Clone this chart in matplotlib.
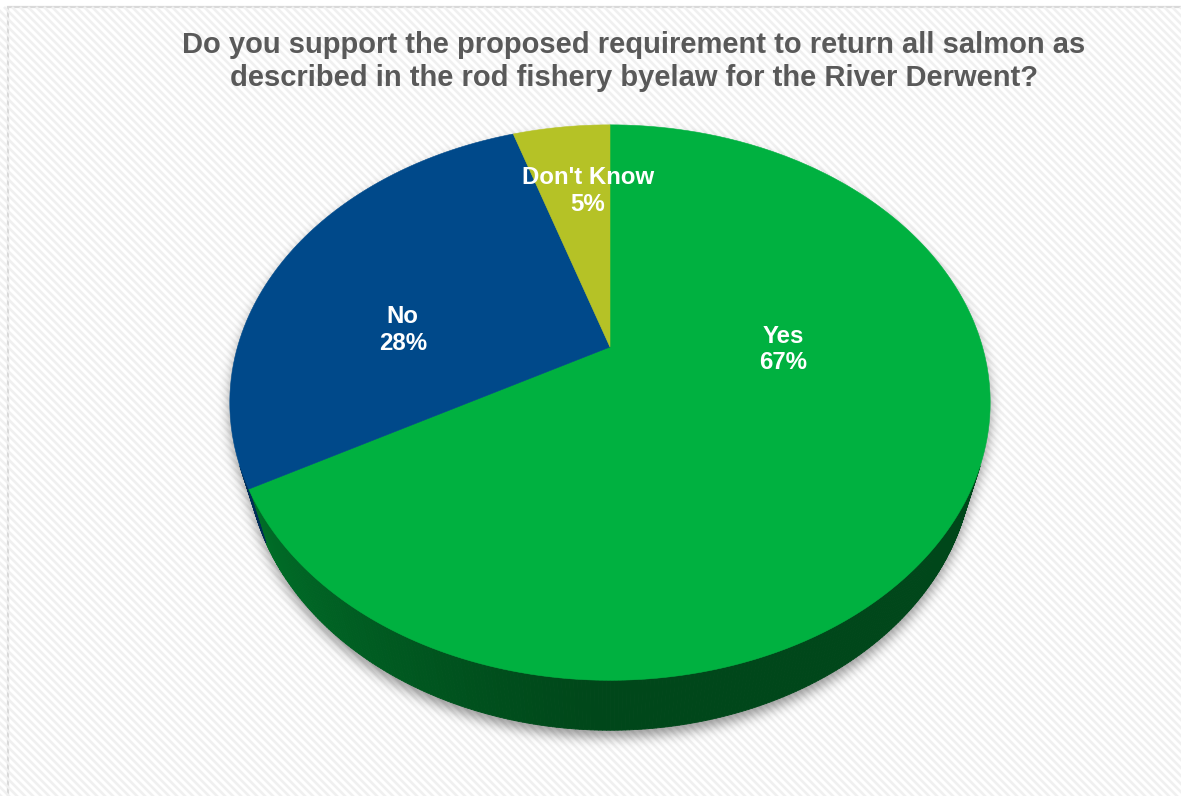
import numpy as np
import matplotlib
matplotlib.use("Agg")
import matplotlib.pyplot as plt
from matplotlib.patches import Polygon, Rectangle
from matplotlib.collections import LineCollection, PolyCollection
from matplotlib.path import Path
from matplotlib.colors import to_rgb

# ---- data ----
categories = ["Yes", "No", "Don't Know"]
shares = [67, 28, 5]
slice_colors = ["#00B140", "#00498A", "#B5C226"]
title = ("Do you support the proposed requirement to return all salmon as\n"
         "described in the rod fishery byelaw for the River Derwent?")

# ---- canvas ----
W, H = 1181, 796
fig = plt.figure(figsize=(W / 100, H / 100), dpi=100)
ax = fig.add_axes([0, 0, 1, 1])
ax.set_xlim(0, W)
ax.set_ylim(H, 0)
ax.axis("off")

# chart area with light diagonal stripes
frame = Rectangle((8, 7), W, H, facecolor="white", edgecolor="#d9d9d9",
                  linewidth=1.6, zorder=0)
ax.add_patch(frame)
period = 8.0
segs = []
for x0 in np.arange(-H, W + period, period):
    segs.append([(x0, 7), (x0 + H, 7 + H)])
stripes = LineCollection(segs, colors="#f0f0f0", linewidths=1.9, zorder=0.5)
stripes.set_clip_path(frame)
ax.add_collection(stripes)

# ---- 3-D pie projection ----
CX, CY = 610.0, 347.0        # projected pie centre
ALPHA = np.radians(45.7)     # tilt of the pie plane
DIST = 3.49                  # camera distance (in pie radii)
FOCAL = 1300.0               # focal length in pixels
DEPTH = 0.22                 # pie thickness (in pie radii)
ca, sa = np.cos(ALPHA), np.sin(ALPHA)


def project(theta_deg, r=1.0, z=0.0):
    t = np.radians(np.asarray(theta_deg, dtype=float))
    x = r * np.sin(t)
    y = r * np.cos(t)
    u = y * sa + z * ca
    w = y * ca - z * sa
    den = DIST + w
    return CX + FOCAL * x / den, CY - FOCAL * u / den


total = float(sum(shares))
bounds = np.concatenate([[0.0], np.cumsum(shares) / total * 360.0])

# side wall is visible where cos(theta) < -1/(DIST*cos(alpha))
cos_lim = -1.0 / (DIST * ca)
th_right = np.degrees(np.arccos(cos_lim))
th_left = 360.0 - th_right

# soft drop shadow under the pie silhouette
back = np.linspace(th_left, th_right + 360.0, 400)
front = np.linspace(th_right, th_left, 300)[::-1]
sx1, sy1 = project(back, 1.0, 0.0)
sx2, sy2 = project(front[::-1], 1.0, -DEPTH)
sil = np.column_stack([np.concatenate([sx1, sx2]), np.concatenate([sy1, sy2])])
sil_path = Path(sil + np.array([0.0, 7.0]))
gx, gy = np.meshgrid(np.arange(W) + 0.5, np.arange(H) + 0.5)
mask = sil_path.contains_points(np.column_stack([gx.ravel(), gy.ravel()]))
mask = mask.reshape(H, W).astype(float)
sig = 6.0
kx = np.arange(-20, 21)
kern = np.exp(-kx ** 2 / (2 * sig ** 2))
kern /= kern.sum()
blur = np.apply_along_axis(lambda v: np.convolve(v, kern, mode="same"), 1, mask)
blur = np.apply_along_axis(lambda v: np.convolve(v, kern, mode="same"), 0, blur)
shadow = np.zeros((H, W, 4))
shadow[..., 3] = 0.40 * blur
ax.imshow(shadow, extent=[0, W, H, 0], zorder=1, interpolation="bilinear")


def shade(theta):
    s = np.sin(np.radians(theta))
    return 0.40 + 0.26 * np.clip(-s, 0, 1) ** 1.3

# side walls
quads, qcols = [], []
for i, col in enumerate(slice_colors):
    a0, a1 = bounds[i], bounds[i + 1]
    lo, hi = max(a0, th_right), min(a1, th_left)
    if hi <= lo:
        continue
    ts = np.linspace(lo, hi, max(3, int((hi - lo) * 2) + 1))
    base = np.array(to_rgb(col))
    for t0, t1 in zip(ts[:-1], ts[1:]):
        xa, ya = project([t0, t1], 1.0, 0.0)
        xb, yb = project([t1, t0], 1.0, -DEPTH)
        quads.append(list(zip(np.concatenate([xa, xb]), np.concatenate([ya, yb]))))
        qcols.append(np.clip(base * shade(0.5 * (t0 + t1)), 0, 1))
ax.add_collection(PolyCollection(quads, facecolors=qcols, edgecolors=qcols,
                                 linewidths=0.6, zorder=2))

# top faces
for i, col in enumerate(slice_colors):
    a0, a1 = bounds[i], bounds[i + 1]
    ts = np.linspace(a0, a1, max(4, int((a1 - a0) * 2) + 1))
    px, py = project(ts, 1.0, 0.0)
    pts = np.column_stack([np.concatenate([[CX], px]), np.concatenate([[CY], py])])
    ax.add_patch(Polygon(pts, closed=True, facecolor=col, edgecolor=col,
                         linewidth=0.4, zorder=3))

# data labels (angle offset from slice middle, radius fraction)
label_layout = [(-29.4, 0.464), (-15.1, 0.567), (3.2, 0.666)]
for i, name in enumerate(categories):
    mid = 0.5 * (bounds[i] + bounds[i + 1])
    d_ang, rad = label_layout[i]
    lx, ly = project(mid + d_ang, rad, 0.0)
    ax.text(lx, ly, f"{name}\n{shares[i]}%", ha="center", va="center",
            fontsize=17.3, fontweight="bold", color="white",
            family="Liberation Sans", linespacing=1.18, zorder=5)

# title
ax.text(634, 61.5, title, ha="center", va="center", fontsize=21,
        fontweight="bold", color="#595959", family="Liberation Sans",
        linespacing=1.27, zorder=5)

fig.savefig("out.png", dpi=100)
